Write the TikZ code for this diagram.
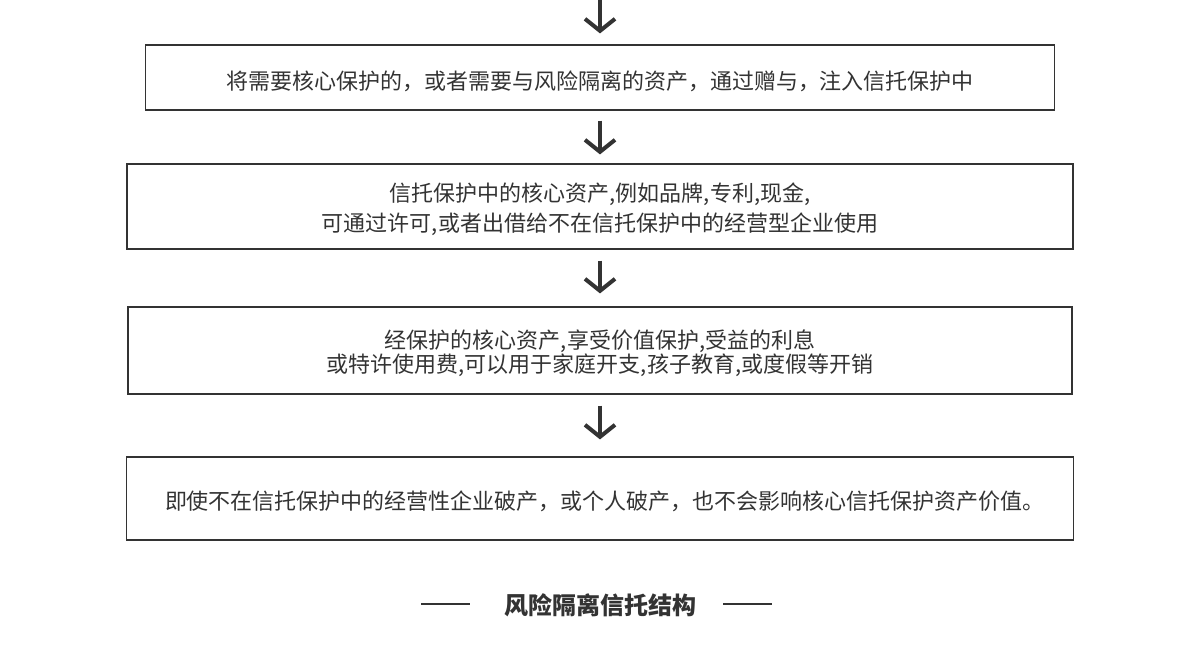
\documentclass[tikz,border=0pt]{standalone}
\usepackage{fontspec}
\setmainfont{Noto Sans CJK SC}
\usetikzlibrary{arrows.meta}
\definecolor{inkgray}{HTML}{333333}
\newcommand{\topstrut}[1][11.7pt]{\rule{0pt}{#1}}
\tikzset{
  stepbox/.style = {shape=rectangle, draw=inkgray, line width=0.6pt,
                    align=center, text=inkgray, inner sep=0pt,
                    font=\fontsize{11}{15}\selectfont},
  flow/.style    = {draw=inkgray, line width=2pt,
                    -{Straight Barb[length=6pt,width=15pt]}},
  rule/.style    = {draw=inkgray, line width=0.6pt}
}
\begin{document}
\begin{tikzpicture}[x=0.5pt,y=-0.5pt]
  \useasboundingbox (0,0) rectangle (1200,644);

  \coordinate (top) at (600,0);
  \node[stepbox, minimum width=454.5pt, minimum height=32.5pt] (gift) at (600,77.5)
    {\topstrut[13.5pt]将需要核心保护的，或者需要与风险隔离的资产，通过赠与，注入信托保护中};
  \node[stepbox, minimum width=473pt, minimum height=42.5pt] (license) at (600,206.5)
    {\topstrut 信托保护中的核心资产,例如品牌,专利,现金,\\
     可通过许可,或者出借给不在信托保护中的经营型企业使用};
  \node[stepbox, minimum width=472pt, minimum height=43.5pt,
        font=\fontsize{11}{12}\selectfont] (benefit) at (600,350.5)
    {\topstrut 经保护的核心资产,享受价值保护,受益的利息\\
     或特许使用费,可以用于家庭开支,孩子教育,或度假等开销};
  \node[stepbox, minimum width=473.5pt, minimum height=41.5pt] (shield) at (600,498.5)
    {\topstrut\hspace{5pt}即使不在信托保护中的经营性企业破产，或个人破产，也不会影响核心信托保护资产价值。};

  \draw[flow, shorten >=5.5pt] (top) -- (gift.north);
  \draw[flow, shorten <=5pt, shorten >=4.5pt] (gift.south) -- (license.north);
  \draw[flow, shorten <=5.5pt, shorten >=6.5pt] (license.south) -- (benefit.north);
  \draw[flow, shorten <=5.5pt, shorten >=8.5pt] (benefit.south) -- (shield.north);

  % title
  \node[text=inkgray, font=\fontsize{12}{14}\selectfont\bfseries] (title) at (600,605)
    {风险隔离信托结构};
  \draw[rule] (421,604) -- (470,604);
  \draw[rule] (723,604) -- (772,604);
\end{tikzpicture}
\end{document}
